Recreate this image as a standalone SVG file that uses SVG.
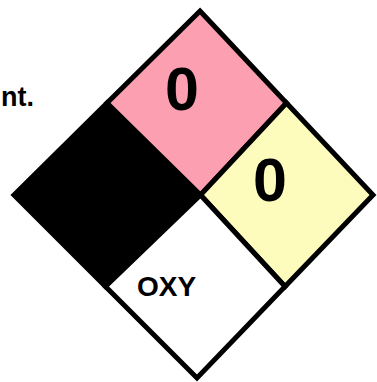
<svg xmlns="http://www.w3.org/2000/svg" width="377" height="382" viewBox="0 0 377 382">
<style>
.q{stroke:#000;stroke-width:5;stroke-linejoin:miter}
.t{font-family:"Liberation Sans",Arial,sans-serif;font-weight:bold;fill:#000}
</style>
<rect width="377" height="382" fill="#fff"/>
<g id="label"><text class="t" x="34" y="106" font-size="27" text-anchor="end">nt.</text></g>
<g id="health"><polygon class="q" fill="#000" points="107,103 200.5,195 105.5,286.5 14,195"/></g>
<g id="flammability"><polygon class="q" fill="#fb9fb1" points="200,11 286.5,103 200.5,195 107,103"/>
<text class="t" x="182" y="110" font-size="61" text-anchor="middle">0</text></g>
<g id="reactivity"><polygon class="q" fill="#fdfcbd" points="286.5,103 373,195 285,286.5 200.5,195"/>
<text class="t" x="270" y="201" font-size="61" text-anchor="middle">0</text></g>
<g id="special"><polygon class="q" fill="#fff" points="200.5,195 285,286.5 197,378 105.5,286.5"/>
<text class="t" x="137" y="296" font-size="28">OXY</text></g>
<g id="connectors"></g>
</svg>
